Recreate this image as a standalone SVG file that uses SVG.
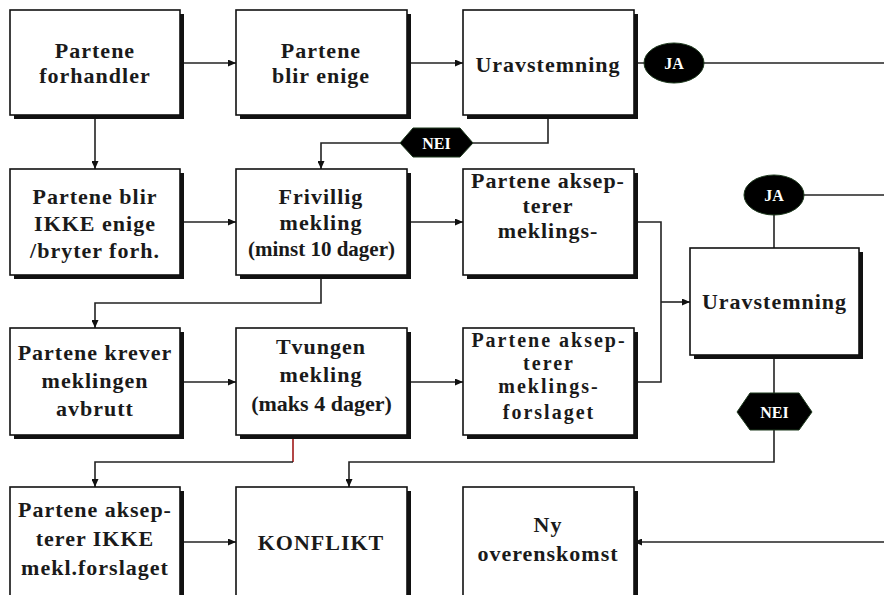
<svg xmlns="http://www.w3.org/2000/svg" width="884" height="595" viewBox="0 0 884 595">
<defs>
<marker id="ah" markerWidth="8" markerHeight="7" refX="8" refY="3.5" orient="auto" markerUnits="userSpaceOnUse">
<path d="M0,0 L8,3.5 L0,7 z" fill="#111"/>
</marker>
</defs>
<style>
.sh{fill:#111}
.bx{fill:#fff;stroke:#111;stroke-width:1.6}
.t{font-family:"Liberation Serif","Times New Roman",serif;font-weight:bold;font-size:22px;letter-spacing:1px;fill:#1a1a1a;text-anchor:middle}
.s{font-size:20px;letter-spacing:2px}
.c{fill:none;stroke:#222;stroke-width:1.6}
.lab{fill:#000;stroke:#1e3a1e;stroke-width:1}
.lt{font-family:"Liberation Serif","Times New Roman",serif;font-weight:bold;font-size:16px;fill:#fff;text-anchor:middle}
</style>
<rect width="884" height="595" fill="#fff"/>

<g id="connectors">
<line class="c" x1="180" y1="63" x2="236" y2="63" marker-end="url(#ah)"/>
<line class="c" x1="407" y1="63" x2="463" y2="63" marker-end="url(#ah)"/>
<line class="c" x1="634" y1="63" x2="884" y2="63"/>
<line class="c" x1="95" y1="115" x2="95" y2="169" marker-end="url(#ah)"/>
<polyline class="c" points="548,115 548,143 473,143"/>
<polyline class="c" points="400,143 321,143 321,169" marker-end="url(#ah)"/>
<line class="c" x1="180" y1="222" x2="236" y2="222" marker-end="url(#ah)"/>
<line class="c" x1="407" y1="222" x2="463" y2="222" marker-end="url(#ah)"/>
<polyline class="c" points="634,222 661,222 661,382 634,382"/>
<line class="c" x1="661" y1="302" x2="690" y2="302" marker-end="url(#ah)"/>
<line class="c" x1="774" y1="205" x2="774" y2="248"/>
<line class="c" x1="804" y1="195" x2="884" y2="195"/>
<polyline class="c" points="321,275 321,303 95,303 95,328" marker-end="url(#ah)"/>
<line class="c" x1="180" y1="382" x2="236" y2="382" marker-end="url(#ah)"/>
<line class="c" x1="407" y1="382" x2="463" y2="382" marker-end="url(#ah)"/>
<line x1="293" y1="435" x2="293" y2="462" stroke="#a01818" stroke-width="1.6"/>
<polyline class="c" points="293,462 95,462 95,487" marker-end="url(#ah)"/>
<line class="c" x1="774" y1="355" x2="774" y2="393"/>
<polyline class="c" points="774,430 774,462 349,462 349,487" marker-end="url(#ah)"/>
<line class="c" x1="180" y1="542" x2="236" y2="542" marker-end="url(#ah)"/>
<line class="c" x1="884" y1="542" x2="634" y2="542" marker-end="url(#ah)"/>
</g>

<g id="n1">
<rect class="sh" x="14" y="14" width="170" height="105"/>
<rect class="bx" x="10" y="10" width="170" height="105"/>
<text class="t" x="95" y="58">Partene</text>
<text class="t" x="95" y="83">forhandler</text>
</g>
<g id="n2">
<rect class="sh" x="240" y="14" width="171" height="105"/>
<rect class="bx" x="236" y="10" width="171" height="105"/>
<text class="t" x="321" y="58">Partene</text>
<text class="t" x="321" y="83">blir enige</text>
</g>
<g id="n3">
<rect class="sh" x="467" y="14" width="171" height="105"/>
<rect class="bx" x="463" y="10" width="171" height="105"/>
<text class="t" x="548" y="72">Uravstemning</text>
</g>
<g id="ja1">
<ellipse class="lab" cx="674" cy="63" rx="30" ry="20"/>
<text class="lt" x="674" y="69">JA</text>
</g>
<g id="nei1">
<polygon class="lab" points="400,143 413,128 460,128 473,143 460,157 413,157"/>
<text class="lt" x="436.5" y="149">NEI</text>
</g>

<g id="n4">
<rect class="sh" x="14" y="173" width="170" height="106"/>
<rect class="bx" x="10" y="169" width="170" height="106"/>
<text class="t" x="95" y="204">Partene blir</text>
<text class="t" x="95" y="231">IKKE enige</text>
<text class="t" x="95" y="258">/bryter forh.</text>
</g>
<g id="n5">
<rect class="sh" x="240" y="173" width="171" height="106"/>
<rect class="bx" x="236" y="169" width="171" height="106"/>
<text class="t" x="321" y="204">Frivillig</text>
<text class="t" x="321" y="230">mekling</text>
<text class="t" x="321.5" y="256" style="font-size:21px;letter-spacing:0">(minst 10 dager)</text>
</g>
<g id="n6">
<rect class="sh" x="467" y="173" width="171" height="106"/>
<rect class="bx" x="463" y="169" width="171" height="106"/>
<text class="t" x="548" y="188">Partene aksep-</text>
<text class="t" x="548" y="213">terer</text>
<text class="t" x="548" y="238">meklings-</text>
</g>
<g id="ja2">
<ellipse class="lab" cx="774" cy="195" rx="30" ry="20"/>
<text class="lt" x="774" y="201">JA</text>
</g>
<g id="n7">
<rect class="sh" x="694" y="252" width="169" height="107"/>
<rect class="bx" x="690" y="248" width="169" height="107"/>
<text class="t" x="774.5" y="309">Uravstemning</text>
</g>
<g id="nei2">
<polygon class="lab" points="737,412 750,393 799,393 812,412 799,430 750,430"/>
<text class="lt" x="774.5" y="418">NEI</text>
</g>

<g id="n8">
<rect class="sh" x="14" y="332" width="170" height="107"/>
<rect class="bx" x="10" y="328" width="170" height="107"/>
<text class="t" x="95" y="360">Partene krever</text>
<text class="t" x="95" y="388">meklingen</text>
<text class="t" x="95" y="416">avbrutt</text>
</g>
<g id="n9">
<rect class="sh" x="240" y="332" width="171" height="107"/>
<rect class="bx" x="236" y="328" width="171" height="107"/>
<text class="t" x="321" y="354">Tvungen</text>
<text class="t" x="321" y="382">mekling</text>
<text class="t" x="321.5" y="411" style="letter-spacing:0">(maks 4 dager)</text>
</g>
<g id="n10">
<rect class="sh" x="467" y="332" width="171" height="107"/>
<rect class="bx" x="463" y="328" width="171" height="107"/>
<text class="t s" x="549" y="347">Partene aksep-</text>
<text class="t s" x="549" y="370">terer</text>
<text class="t s" x="549" y="393">meklings-</text>
<text class="t s" x="549" y="419">forslaget</text>
</g>

<g id="n11">
<rect class="sh" x="14" y="491" width="170" height="115"/>
<rect class="bx" x="10" y="487" width="170" height="115"/>
<text class="t" x="95" y="517">Partene aksep-</text>
<text class="t" x="95" y="546">terer IKKE</text>
<text class="t" x="95" y="575">mekl.forslaget</text>
</g>
<g id="n12">
<rect class="sh" x="240" y="491" width="171" height="115"/>
<rect class="bx" x="236" y="487" width="171" height="115"/>
<text class="t" x="321" y="550">KONFLIKT</text>
</g>
<g id="n13">
<rect class="sh" x="467" y="491" width="171" height="115"/>
<rect class="bx" x="463" y="487" width="171" height="115"/>
<text class="t" x="548" y="532">Ny</text>
<text class="t" x="548" y="561">overenskomst</text>
</g>
</svg>
